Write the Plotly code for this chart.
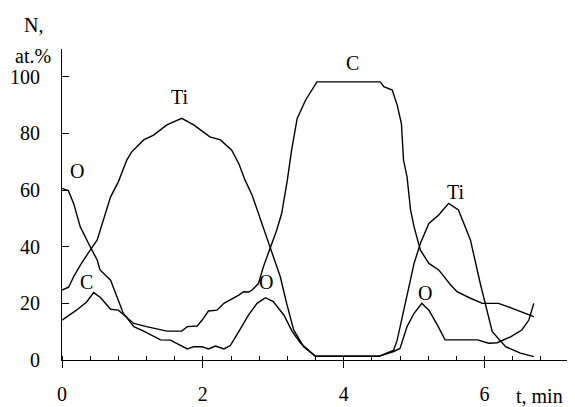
import plotly.graph_objects as go

# O (oxygen)
o_x = [0.0, 0.09, 0.165, 0.26, 0.40, 0.50, 0.54, 0.69, 0.87, 1.02, 1.16, 1.40, 1.54, 1.68, 1.78, 1.87, 1.99, 2.08, 2.18, 2.30, 2.39, 2.51, 2.65, 2.77, 2.89, 3.00, 3.15, 3.27, 3.39, 3.60, 4.50, 4.71, 4.80, 4.90, 5.00, 5.11, 5.21, 5.33, 5.44, 5.90, 6.06, 6.18, 6.37, 6.53, 6.63, 6.70]
o_y = [60.6, 59.8, 55.3, 47.0, 40.0, 35.3, 31.8, 28.2, 16.5, 11.8, 10.2, 7.1, 7.0, 5.1, 3.9, 4.7, 4.7, 3.9, 4.9, 3.9, 5.1, 10.0, 15.9, 20.0, 22.0, 20.6, 15.9, 10.0, 5.9, 1.3, 1.3, 3.0, 4.1, 11.8, 16.5, 20.0, 17.6, 12.4, 7.1, 7.1, 5.9, 6.1, 8.2, 10.6, 14.1, 20.0]

# Ti (titanium)
ti_x = [0.0, 0.094, 0.165, 0.26, 0.40, 0.50, 0.69, 0.80, 0.92, 0.99, 1.16, 1.30, 1.49, 1.70, 1.87, 2.10, 2.25, 2.41, 2.51, 2.60, 2.70, 2.82, 2.96, 3.10, 3.19, 3.29, 3.43, 3.60, 4.50, 4.71, 4.76, 4.88, 5.00, 5.09, 5.21, 5.35, 5.49, 5.63, 5.80, 5.94, 6.11, 6.30, 6.51, 6.70]
ti_y = [24.7, 25.7, 29.4, 33.5, 38.8, 42.4, 57.6, 62.9, 70.6, 73.5, 77.7, 79.4, 83.0, 85.3, 83.0, 78.8, 77.7, 74.1, 69.4, 63.5, 58.2, 49.4, 39.4, 29.4, 20.0, 10.6, 4.7, 1.3, 1.3, 3.5, 7.0, 20.0, 34.1, 41.2, 48.2, 51.2, 55.3, 53.0, 42.4, 27.0, 10.0, 4.7, 2.4, 1.2]

# C (carbon)
c_x = [0.0, 0.20, 0.35, 0.45, 0.55, 0.69, 0.80, 1.02, 1.20, 1.49, 1.70, 1.78, 1.92, 1.99, 2.08, 2.20, 2.30, 2.39, 2.51, 2.58, 2.65, 2.70, 2.79, 2.86, 2.96, 3.05, 3.12, 3.20, 3.26, 3.34, 3.46, 3.62, 4.52, 4.57, 4.69, 4.76, 4.82, 4.85, 4.90, 4.95, 5.00, 5.09, 5.21, 5.35, 5.52, 5.61, 5.80, 5.97, 6.20, 6.32, 6.46, 6.70]
c_y = [14.1, 17.5, 20.5, 23.8, 22.0, 17.9, 17.6, 12.9, 11.8, 10.2, 10.2, 11.8, 12.0, 14.1, 17.3, 17.6, 20.0, 21.2, 22.9, 24.1, 24.0, 24.7, 27.0, 32.9, 39.4, 45.9, 51.8, 63.5, 74.0, 85.3, 91.8, 98.2, 98.2, 96.5, 95.3, 90.0, 83.5, 70.6, 64.7, 53.0, 47.0, 38.8, 34.1, 31.8, 26.5, 24.1, 21.8, 20.0, 20.0, 18.8, 17.6, 15.3]

# curve labels
lbl_text = ["O", "C", "Ti", "O", "C", "Ti", "O"]
lbl_x = [0.22, 0.35, 1.68, 2.90, 4.12, 5.59, 5.16]
lbl_y = [66.7, 27.6, 93.0, 27.6, 104.7, 59.4, 23.5]

x_ticks = [0, 2, 4, 6]
y_ticks = [0, 20, 40, 60, 80, 100]

FONT = "Liberation Serif"
FS = 20

fig = go.Figure()
for xs, ys in [(o_x, o_y), (ti_x, ti_y), (c_x, c_y)]:
    fig.add_trace(go.Scatter(x=xs, y=ys, mode="lines",
                             line=dict(color="black", width=1.4),
                             showlegend=False, hoverinfo="skip"))

for t, x, y in zip(lbl_text, lbl_x, lbl_y):
    fig.add_annotation(x=x, y=y, text=t, showarrow=False,
                       font=dict(family=FONT, size=FS, color="black"))

fig.add_annotation(xref="paper", yref="paper", x=1.0, xshift=-4, y=0, yshift=-36,
                   xanchor="right", yanchor="middle", text="t, min", showarrow=False,
                   font=dict(family=FONT, size=FS, color="black"))
fig.add_annotation(xref="paper", yref="paper", x=0, xshift=-29, y=1, yshift=24,
                   xanchor="center", yanchor="middle", text="N,", showarrow=False,
                   font=dict(family=FONT, size=FS, color="black"))
fig.add_annotation(xref="paper", yref="paper", x=0, xshift=-29, y=1, yshift=-7,
                   xanchor="center", yanchor="middle", text="at.%", showarrow=False,
                   font=dict(family=FONT, size=FS, color="black"))

fig.update_layout(
    width=567, height=399,
    margin=dict(l=54, r=6, t=41, b=47),
    paper_bgcolor="white", plot_bgcolor="white",
    font=dict(family=FONT, size=FS, color="black"),
    xaxis=dict(range=[0, 7.2], tickvals=x_ticks, ticktext=[str(v) for v in x_ticks],
               automargin=False,
               showgrid=False, zeroline=False, showline=True, linecolor="black", linewidth=1,
               ticks="outside", ticklen=7, tickcolor="black", tickwidth=1,
               ticklabelstandoff=9,
               minor=dict(dtick=0.4, tick0=0, ticks="inside", ticklen=4, tickcolor="black", tickwidth=1, showgrid=False)),
    yaxis=dict(range=[0, 109.8], tickvals=y_ticks, ticktext=[str(v) for v in y_ticks],
               automargin=False,
               showgrid=False, zeroline=False, showline=True, linecolor="black", linewidth=1,
               ticks="inside", ticklen=7, tickcolor="black", tickwidth=1,
               ticklabelstandoff=17),
)

fig.write_html("out.html")
